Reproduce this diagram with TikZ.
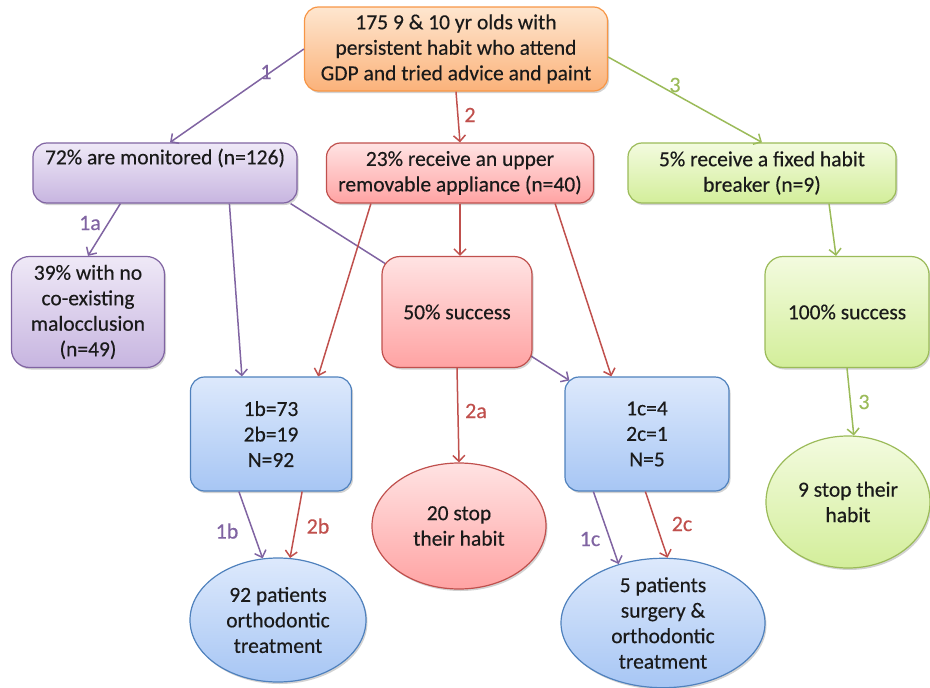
\documentclass[tikz,border=0pt]{standalone}
\usepackage{fontspec}
\setmainfont{Carlito}[FakeBold=0.3]
\usetikzlibrary{arrows.meta,shadows,shapes.geometric,calc}

% Office-style palette
\definecolor{purpleline}{HTML}{8064A2}
\definecolor{purpletop}{HTML}{EFE9F7}
\definecolor{purplebot}{HTML}{C7B5E0}
\definecolor{redline}{HTML}{C0504D}
\definecolor{redtop}{HTML}{FFE3E3}
\definecolor{redbot}{HTML}{FFA3A3}
\definecolor{greenline}{HTML}{9BBB59}
\definecolor{greentop}{HTML}{F3FBDF}
\definecolor{greenbot}{HTML}{D3EE9A}
\definecolor{blueline}{HTML}{4F81BD}
\definecolor{bluetop}{HTML}{DDE9FC}
\definecolor{bluebot}{HTML}{A7C6F4}
\definecolor{orangeline}{HTML}{F79646}
\definecolor{orangetop}{HTML}{FEE6CF}
\definecolor{orangebot}{HTML}{FBB27A}
\definecolor{inktext}{HTML}{1A1A1A}

\tikzset{
  softshadow/.style={drop shadow={shadow xshift=1.5pt, shadow yshift=-2pt, opacity=0.25, fill=black!70}},
  box/.style={draw, line width=1.2pt, rounded corners=14pt, align=center, inner sep=0pt, softshadow, text=inktext},
  oval/.style={draw, ellipse, line width=1.2pt, align=center, inner sep=0pt, softshadow, text=inktext},
  purplefill/.style={draw=purpleline, top color=purpletop, bottom color=purplebot},
  redfill/.style={draw=redline, top color=redtop, bottom color=redbot},
  greenfill/.style={draw=greenline, top color=greentop, bottom color=greenbot},
  bluefill/.style={draw=blueline, top color=bluetop, bottom color=bluebot},
  orangefill/.style={draw=orangeline, top color=orangetop, bottom color=orangebot},
  conn/.style={line width=1.5pt, -{Straight Barb[length=6pt, width=12pt, line width=1.5pt]}},
  pconn/.style={conn, draw=purpleline},
  rconn/.style={conn, draw=redline},
  gconn/.style={conn, draw=greenline},
  tag/.style={inner sep=0pt, font=\fontsize{22}{26}\selectfont}
}

\begin{document}
\begin{tikzpicture}[x=1pt, y=-1pt, font=\fontsize{21.5}{25.5}\selectfont]
\useasboundingbox (0,0) rectangle (930,688);

% ---- top box ----
\node[box, orangefill, minimum width=303pt, minimum height=84pt] (top) at (456,49)
  {175 9 \& 10 yr olds with\\persistent habit who attend\\GDP and tried advice and paint};

% ---- second row ----
\node[box, purplefill, minimum width=264pt, minimum height=60pt] (mon) at (165,173) {};
\node[inner sep=0pt, text=inktext, anchor=north] (montext) at ($(mon.north)+(0,6)$) {72\% are monitored (n=126)};
\node[box, redfill, minimum width=267pt, minimum height=60pt] (rua) at (460,173)
  {23\% receive an upper\\removable appliance (n=40)};
\node[box, greenfill, minimum width=268pt, minimum height=60pt] (fhb) at (762,173)
  {5\% receive a fixed habit\\breaker (n=9)};

% ---- third row ----
\node[box, purplefill, rounded corners=18pt, minimum width=153pt, minimum height=111pt] (nc) at (88,312)
  {39\% with no\\co-existing\\malocclusion\\(n=49)};
\node[box, bluefill, minimum width=164pt, minimum height=114pt] (c1) at (647,434)
  {1c=4\\2c=1\\N=5};

% purple route from the monitored group to the 1c group, passing behind 50% success
\draw[pconn] ($(mon.south east)+(-7,0)$) -- ($(c1.north west)+(5,4)$);

\node[box, redfill, rounded corners=18pt, minimum width=150pt, minimum height=111pt] (s50) at (457,312)
  {50\% success};
\node[box, greenfill, rounded corners=18pt, minimum width=164pt, minimum height=111pt] (s100) at (847,312)
  {100\% success};

% ---- fourth row ----
\node[box, bluefill, minimum width=161pt, minimum height=114pt] (b1) at (271,434)
  {1b=73\\2b=19\\N=92};

% ---- outcome ovals ----
\node[oval, redfill, minimum width=174pt, minimum height=126pt] (stop20) at (459,526)
  {20 stop\\their habit};
\node[oval, greenfill, minimum width=164pt, minimum height=132pt] (stop9) at (848,502)
  {9 stop their\\habit};
\node[oval, bluefill, minimum width=176pt, minimum height=124pt] (pat92) at (278,620)
  {92 patients\\orthodontic\\treatment};
\node[oval, bluefill, minimum width=204pt, minimum height=126pt] (pat5) at (663,623)
  {5 patients\\surgery \&\\orthodontic\\treatment};

% ---- connectors ----
\draw[pconn] (top.west) -- ($(mon.north)+(5,0)$);
\draw[rconn] (top.south) -- (rua.north);
\draw[gconn] ($(top.east)+(0,8)$) -- (fhb.north);

\draw[pconn] ($(mon.south west)+(88,0)$) -- (nc.north);
\draw[pconn] ($(mon.south west)+(197,0)$) -- ($(b1.north west)+(52,0)$);

\draw[rconn] ($(rua.south west)+(45,0)$) -- ($(b1.north east)+(-34,0)$);
\draw[rconn] (rua.south) -- ($(s50.north)+(3,0)$);
\draw[rconn] ($(rua.south east)+(-39,0)$) -- ($(c1.north west)+(47,0)$);

\draw[gconn] ($(fhb.south)+(67,0)$) -- ($(s100.north)+(-11,0)$);

\draw[rconn] (s50.south) -- (stop20.north);
\draw[gconn] (s100.south) -- (stop9.85);

\draw[pconn] ($(b1.south west)+(49,0)$) -- (pat92.104);
\draw[rconn] ($(b1.south east)+(-50,0)$) -- (pat92.79);
\draw[pconn] ($(c1.south west)+(29,0)$) -- (pat5.127);
\draw[rconn] ($(c1.south west)+(81,0)$) -- (pat5.86);

% ---- path labels ----
\node[tag, text=purpleline] (l1)  at (266,72)  {1};
\node[tag, text=redline]    (l2)  at (470,115) {2};
\node[tag, text=greenline]  (l3)  at (675,85)  {3};
\node[tag, text=purpleline] (l1a) at (90,223)  {1a};
\node[tag, text=redline]    (l2a) at (476,411) {2a};
\node[tag, text=greenline]  (l3b) at (864,402) {3};
\node[tag, text=purpleline] (l1b) at (227,531) {1b};
\node[tag, text=redline]    (l2b) at (318,526) {2b};
\node[tag, text=purpleline] (l1c) at (590,539) {1c};
\node[tag, text=redline]    (l2c) at (682,524) {2c};
\end{tikzpicture}
\end{document}
